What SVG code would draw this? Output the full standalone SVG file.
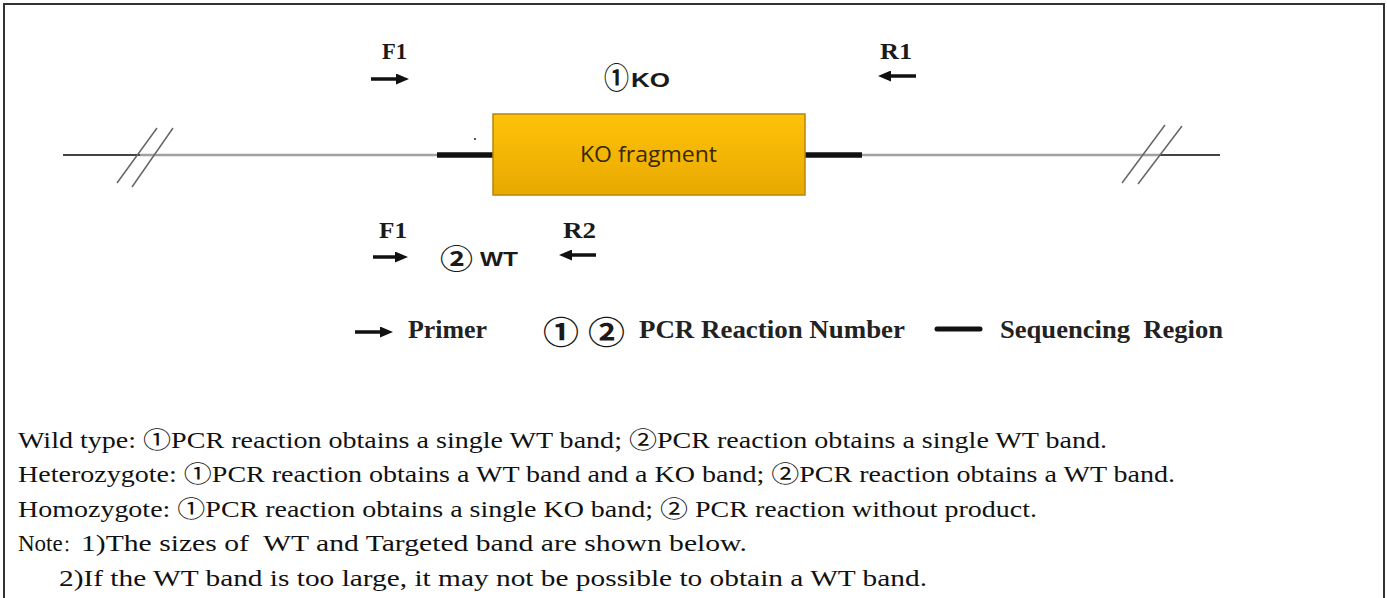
<svg xmlns="http://www.w3.org/2000/svg" width="1387" height="598" viewBox="0 0 1387 598">
<defs>
<linearGradient id="gold" x1="0" y1="0" x2="0" y2="1">
<stop offset="0" stop-color="#FFC20A"/>
<stop offset="1" stop-color="#E8A900"/>
</linearGradient>
<marker id="head" viewBox="0 0 13 11" refX="1" refY="5.5" markerWidth="13" markerHeight="11" markerUnits="userSpaceOnUse" orient="auto">
<path d="M0,0 L13,5.5 L0,11 z" fill="#111"/>
</marker>
</defs>
<style>
.lbl{font-family:"Liberation Serif",serif;font-weight:bold;font-size:24px;fill:#1a1a1a}
.leg{font-family:"Liberation Serif",serif;font-weight:bold;font-size:25px;fill:#222}
.circ{font-family:"Noto Sans CJK SC",sans-serif;font-weight:bold;fill:#1a1a1a}
.sans{font-family:"Liberation Sans",sans-serif;font-weight:bold;font-size:21px;fill:#1a1a1a}
.body{font-family:"Liberation Serif","Noto Sans CJK SC",serif;font-size:23px;fill:#111;white-space:pre}
.primer{stroke:#111;stroke-width:3.5;fill:none;marker-end:url(#head)}
.thin{stroke:#a0a0a0;stroke-width:2.5;fill:none}
.dark{stroke:#444;stroke-width:2;fill:none}
.seq{stroke:#111;stroke-width:5.5;fill:none}
.slash{stroke:#666;stroke-width:1.5;fill:none}
</style>
<path d="M4,600 V4 H1384 V600" fill="none" stroke="#333" stroke-width="2"/>
<g id="connectors">
<path class="dark" d="M63,155 H140"/>
<path class="thin" d="M140,155 H437"/>
<path class="seq" d="M437,155 H494"/>
<path class="seq" d="M804,155 H862"/>
<path class="thin" d="M862,155 H1160"/>
<path class="dark" d="M1160,155 H1220"/>
<path class="slash" d="M117,183 L157,128 M132,187 L173,128"/>
<path class="slash" d="M1122,183 L1165,125 M1138,184 L1182,126"/>
<path class="primer" d="M371,79 H397"/>
<path class="primer" d="M916,76 H890"/>
<path class="primer" d="M373,257 H396"/>
<path class="primer" d="M596,255 H571"/>
</g>
<g id="ko-fragment">
<rect x="493" y="114" width="312" height="81" fill="url(#gold)" stroke="#B8860B" stroke-width="1.5"/>
<text x="580" y="162" font-family="'Open Sans','Liberation Sans',sans-serif" font-size="21" fill="#3a2800" textLength="137" lengthAdjust="spacingAndGlyphs">KO fragment</text>
</g>
<circle cx="475" cy="139" r="1" fill="#222"/>
<g id="label-f1-top"><text class="lbl" x="382" y="59" textLength="25" lengthAdjust="spacingAndGlyphs">F1</text></g>
<g id="label-r1"><text class="lbl" x="880" y="59" textLength="32" lengthAdjust="spacingAndGlyphs">R1</text></g>
<g id="label-ko"><text class="circ" x="604" y="89" font-size="29" textLength="25" lengthAdjust="spacingAndGlyphs">①</text><text class="sans" x="631" y="87" textLength="39" lengthAdjust="spacingAndGlyphs">KO</text></g>
<g id="label-f1-bottom"><text class="lbl" x="379" y="238" textLength="28" lengthAdjust="spacingAndGlyphs">F1</text></g>
<g id="label-r2"><text class="lbl" x="563" y="238" textLength="33" lengthAdjust="spacingAndGlyphs">R2</text></g>
<g id="label-wt"><text class="circ" x="440" y="269" font-size="27" textLength="33" lengthAdjust="spacingAndGlyphs">②</text><text class="sans" x="480" y="266" textLength="38" lengthAdjust="spacingAndGlyphs">WT</text></g>
<g id="legend">
<path class="primer" d="M355,332 H381"/>
<text class="leg" x="408" y="338" textLength="79" lengthAdjust="spacingAndGlyphs">Primer</text>
<text class="circ" x="543" y="344" font-size="32" textLength="36" lengthAdjust="spacingAndGlyphs">①</text>
<text class="circ" x="588" y="344" font-size="32" textLength="37" lengthAdjust="spacingAndGlyphs">②</text>
<text class="leg" x="639" y="338" textLength="266" lengthAdjust="spacingAndGlyphs">PCR Reaction Number</text>
<path d="M937,329 H980" stroke="#111" stroke-width="5" stroke-linecap="round"/>
<text class="leg" x="1000" y="338" textLength="223" lengthAdjust="spacingAndGlyphs" style="white-space:pre">Sequencing  Region</text>
</g>
<g id="notes">
<text class="body" x="18" y="448" textLength="1089" lengthAdjust="spacingAndGlyphs">Wild type: ①PCR reaction obtains a single WT band; ②PCR reaction obtains a single WT band.</text>
<text class="body" x="18" y="482" textLength="1157" lengthAdjust="spacingAndGlyphs">Heterozygote: ①PCR reaction obtains a WT band and a KO band; ②PCR reaction obtains a WT band.</text>
<text class="body" x="18" y="517" textLength="1019" lengthAdjust="spacingAndGlyphs">Homozygote: ①PCR reaction obtains a single KO band; ② PCR reaction without product.</text>
<text class="body" x="18" y="551">Note</text>
<text class="body" x="63" y="551" style="font-size:16px">：</text>
<text class="body" x="81" y="551" textLength="666" lengthAdjust="spacingAndGlyphs">1)The sizes of  WT and Targeted band are shown below.</text>
<text class="body" x="59" y="586" textLength="868" lengthAdjust="spacingAndGlyphs">2)If the WT band is too large, it may not be possible to obtain a WT band.</text>
</g>
</svg>
